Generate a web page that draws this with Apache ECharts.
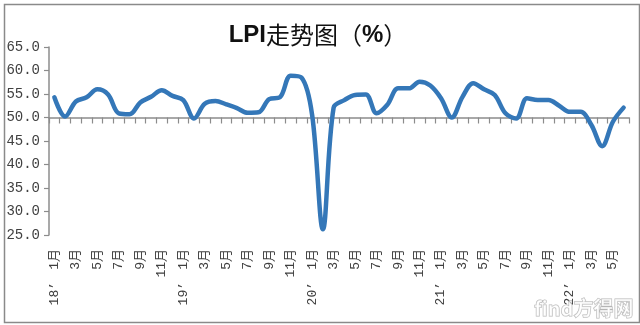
<!DOCTYPE html>
<html>
<head>
<meta charset="utf-8">
<script src="https://cdn.jsdelivr.net/npm/echarts@6/dist/echarts.min.js"></script>
<style>
  html, body { margin: 0; padding: 0; background: #fff; }
  #chart { width: 640px; height: 325px; }
</style>
</head>
<body>
<div id="chart"></div>
<script>
// Monthly LPI, Jan 2018 – Jun 2022
const years = ["18’", "19’", "20’", "21’", "22’"];
const monthsPerYear = [12, 12, 12, 12, 6];
const lpi = [
  54.3, 50.2, 53.4, 54.3, 56.0, 54.9, 50.9, 50.7, 53.2, 54.4, 55.8, 54.6,
  53.7, 49.8, 52.9, 53.5, 52.8, 52.0, 51.0, 51.1, 53.9, 54.3, 58.9, 58.5,
  50.5, 26.2, 52.1, 53.7, 54.8, 54.9, 50.9, 52.7, 56.2, 56.2, 57.6, 56.8,
  54.1, 50.0, 54.4, 57.3, 56.0, 54.8, 50.9, 49.8, 54.1, 53.7, 53.7, 52.5,
  51.2, 51.2, 48.4, 43.9, 49.1, 52.1
];
const yTicks = { min: 25, max: 65, step: 5 };
const baseLine = 50;   // the category axis crosses the value axis here

// category keys "year|month"
const categories = [];
years.forEach((y, i) => {
  for (let m = 1; m <= monthsPerYear[i]; m++) categories.push(y + '|' + m);
});

const gridBox = { left: 49, right: 11, top: 47, bottom: 90 };
const axisGray = '#8c8c8c';
const labelFont = '"Liberation Mono", "Noto Sans CJK SC", monospace';

const chart = echarts.init(document.getElementById('chart'), null, { renderer: 'canvas' });
chart.setOption({
  animation: false,
  backgroundColor: '#fff',
  title: {
    text: '{a|LPI}{b|走势图（}{a|%}{b|）}',
    left: 313,
    top: 18,
    textAlign: 'center',
    textStyle: {
      rich: {
        a: { fontFamily: '"Liberation Sans", Arial, sans-serif', fontWeight: 'bold', fontSize: 24, color: '#111' },
        b: { fontFamily: '"Noto Sans CJK SC", sans-serif', fontWeight: 'normal', fontSize: 24, color: '#111' }
      }
    }
  },
  grid: [
    Object.assign({}, gridBox),
    Object.assign({}, gridBox)
  ],
  xAxis: [
    { // month labels
      gridIndex: 0, type: 'category', data: categories, boundaryGap: true, position: 'bottom',
      axisLine: { show: false }, axisTick: { show: false },
      axisLabel: {
        interval: 1, rotate: 90, margin: 14,
        fontFamily: labelFont, fontSize: 13, color: '#404040',
        formatter: v => v.split('|')[1] + '月'
      }
    },
    { // year labels
      gridIndex: 0, type: 'category', data: categories, boundaryGap: true, position: 'bottom',
      axisLine: { show: false }, axisTick: { show: false },
      axisLabel: {
        interval: 0, rotate: 90, margin: 47,
        fontFamily: labelFont, fontSize: 13, color: '#404040',
        formatter: v => { const p = v.split('|'); return p[1] === '1' ? p[0] : ''; }
      }
    },
    { // axis line with ticks drawn at the 50 level
      gridIndex: 1, type: 'category', data: categories, boundaryGap: true,
      axisLine: { show: true, onZero: true, lineStyle: { color: axisGray, width: 1.5 } },
      axisTick: { show: true, interval: 0, length: 6, lineStyle: { color: axisGray, width: 1.2 } },
      axisLabel: { show: false }
    }
  ],
  yAxis: [
    {
      gridIndex: 0, type: 'value', min: yTicks.min, max: yTicks.max, interval: yTicks.step,
      axisLine: { show: true, lineStyle: { color: axisGray, width: 1.5 } },
      axisTick: { show: true, length: 5, lineStyle: { color: axisGray, width: 1.2 } },
      splitLine: { show: false },
      axisLabel: {
        margin: 9, fontFamily: labelFont, fontSize: 14, color: '#404040',
        formatter: v => v.toFixed(1)
      }
    },
    {
      gridIndex: 1, type: 'value', show: false,
      min: yTicks.min - baseLine, max: yTicks.max - baseLine
    }
  ],
  series: [{
    type: 'line',
    xAxisIndex: 0, yAxisIndex: 0,
    data: lpi,
    smooth: 0.35,
    showSymbol: false,
    lineStyle: { color: '#3477b8', width: 4.5, cap: 'round', join: 'round' },
    z: 5
  }],
  graphic: [
    {
      type: 'rect', left: 2, top: 2, z: -1,
      shape: { width: 635, height: 318 },
      style: { fill: 'none', stroke: '#8a8a8a', lineWidth: 1.5 }
    },
    {
      type: 'text', right: 6, bottom: 6, z: 10,
      style: {
        text: 'find方得网',
        font: 'bold 20px "Noto Sans CJK SC", sans-serif',
        fill: 'rgba(255,255,255,0.6)', stroke: 'rgba(120,120,120,0.55)', lineWidth: 1
      }
    }
  ]
});
</script>
</body>
</html>
